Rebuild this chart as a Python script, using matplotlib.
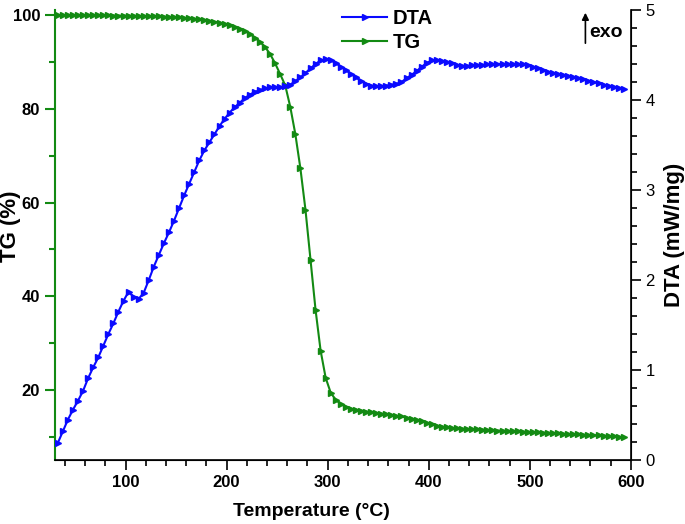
import matplotlib.pyplot as plt
from matplotlib.ticker import MultipleLocator

plt.rcParams['font.family'] = ['Liberation Sans', 'DejaVu Sans']

# temperature (C), one point every 5 degrees
temp = list(range(33, 594, 5))

# TG (%)
tg = [100.0, 100.0, 100.0, 100.0, 100.0, 99.98, 99.97, 99.96, 99.95, 99.94,
      99.92, 99.91, 99.9, 99.88, 99.86, 99.84, 99.82, 99.8, 99.78, 99.75,
      99.71, 99.67, 99.62, 99.56, 99.5, 99.42, 99.33, 99.22, 99.1, 98.95,
      98.8, 98.6, 98.4, 98.1, 97.8, 97.4, 97.0, 96.6, 96.0, 95.2,
      94.3, 93.2, 91.7, 89.7, 87.4, 85.0, 80.4, 74.6, 67.3, 58.5,
      47.8, 37.1, 28.4, 22.6, 19.4, 17.9, 17.0, 16.4, 16.0, 15.8,
      15.6, 15.4, 15.25, 15.1, 14.95, 14.85, 14.7, 14.5, 14.35, 14.1,
      13.9, 13.6, 13.3, 13.0, 12.7, 12.4, 12.2, 12.0, 11.9, 11.8,
      11.75, 11.7, 11.65, 11.6, 11.55, 11.5, 11.45, 11.35, 11.3, 11.25,
      11.2, 11.15, 11.1, 11.05, 11.0, 10.95, 10.9, 10.85, 10.8, 10.75,
      10.65, 10.6, 10.55, 10.5, 10.45, 10.4, 10.35, 10.3, 10.25, 10.15,
      10.1, 10.0, 9.95]

# DTA (mW/mg)
dta = [0.19, 0.32, 0.45, 0.56, 0.66, 0.77, 0.91, 1.03, 1.14, 1.27,
       1.40, 1.52, 1.65, 1.77, 1.87, 1.81, 1.79, 1.86, 2.00, 2.15,
       2.28, 2.41, 2.53, 2.66, 2.80, 2.94, 3.07, 3.20, 3.33, 3.44,
       3.53, 3.62, 3.71, 3.79, 3.86, 3.92, 3.97, 4.02, 4.06, 4.09,
       4.11, 4.13, 4.14, 4.14, 4.14, 4.15, 4.17, 4.21, 4.25, 4.30,
       4.35, 4.40, 4.44, 4.45, 4.44, 4.41, 4.37, 4.33, 4.29, 4.25,
       4.21, 4.18, 4.16, 4.155, 4.155, 4.16, 4.17, 4.18, 4.20, 4.24,
       4.28, 4.32, 4.37, 4.41, 4.44, 4.44, 4.43, 4.42, 4.41, 4.39,
       4.38, 4.38, 4.385, 4.39, 4.39, 4.395, 4.40, 4.40, 4.40, 4.40,
       4.40, 4.40, 4.395, 4.385, 4.37, 4.35, 4.33, 4.315, 4.30, 4.29,
       4.28, 4.27, 4.255, 4.24, 4.23, 4.215, 4.20, 4.185, 4.17, 4.155,
       4.14, 4.13, 4.12]

green = '#138a13'
blue = '#0a0aff'

fig = plt.figure(figsize=(6.85, 5.24), dpi=100)
ax = fig.add_axes([0.080, 0.122, 0.841, 0.859])
ax2 = ax.twinx()

l1, = ax2.plot(temp, dta, color=blue, lw=1.5, marker='>', ms=4.5, label='DTA')
l2, = ax.plot(temp, tg, color=green, lw=1.5, marker='>', ms=4.5, label='TG')

ax.set_xlim(30, 600)
ax.set_ylim(5.04, 101.1)
ax2.set_ylim(0, 5)

ax.xaxis.set_major_locator(MultipleLocator(100))
ax.xaxis.set_minor_locator(MultipleLocator(20))
ax.yaxis.set_major_locator(MultipleLocator(20))
ax.yaxis.set_minor_locator(MultipleLocator(10))
ax2.yaxis.set_major_locator(MultipleLocator(1))
ax2.yaxis.set_minor_locator(MultipleLocator(0.2))

for a in (ax, ax2):
    a.spines['top'].set_visible(False)
ax.spines['left'].set_color(green)
ax.spines['left'].set_linewidth(1.5)
ax.spines['bottom'].set_linewidth(1.2)
ax2.spines['left'].set_visible(False)
ax2.spines['right'].set_linewidth(1.2)

ax.tick_params(axis='x', which='major', direction='out', length=7, width=1.2, labelsize=12)
ax.tick_params(axis='x', which='minor', direction='out', length=4, width=1.2)
ax.tick_params(axis='y', which='major', direction='out', length=7, width=1.5,
               color=green, labelsize=12)
ax.tick_params(axis='y', which='minor', direction='out', length=4, width=1.5, color=green)
ax2.tick_params(axis='y', which='major', direction='out', length=7, width=1.2, labelsize=12)
ax2.tick_params(axis='y', which='minor', direction='out', length=4, width=1.2)

for lab in ax.get_xticklabels() + ax.get_yticklabels():
    lab.set_fontweight('bold')

ax.set_xlabel('Temperature (°C)', fontsize=14, fontweight='bold')
ax.xaxis.set_label_coords(0.445, -0.095)
ax.set_ylabel('TG (%)', fontsize=16, fontweight='bold')
ax.yaxis.set_label_coords(-0.058, 0.52)
ax2.set_ylabel('DTA (mW/mg)', fontsize=16, fontweight='bold')
ax2.yaxis.set_label_coords(1.058, 0.5)

fig.legend(handles=[l1, l2], loc='upper left', bbox_to_anchor=(342 / 685, 1 - 9 / 524),
           frameon=False, prop={'size': 14.5, 'weight': 'bold'},
           borderpad=0, borderaxespad=0,
           handlelength=2.25, handletextpad=0.25, labelspacing=0.25)

ax2.annotate('', xy=(555, 5.0), xytext=(555, 4.6),
             arrowprops=dict(arrowstyle='-|>', color='black', lw=1.2,
                             mutation_scale=10))
ax2.text(559, 4.75, 'exo', fontsize=14, fontweight='bold', va='center')

fig.savefig('out.png', dpi=100)
